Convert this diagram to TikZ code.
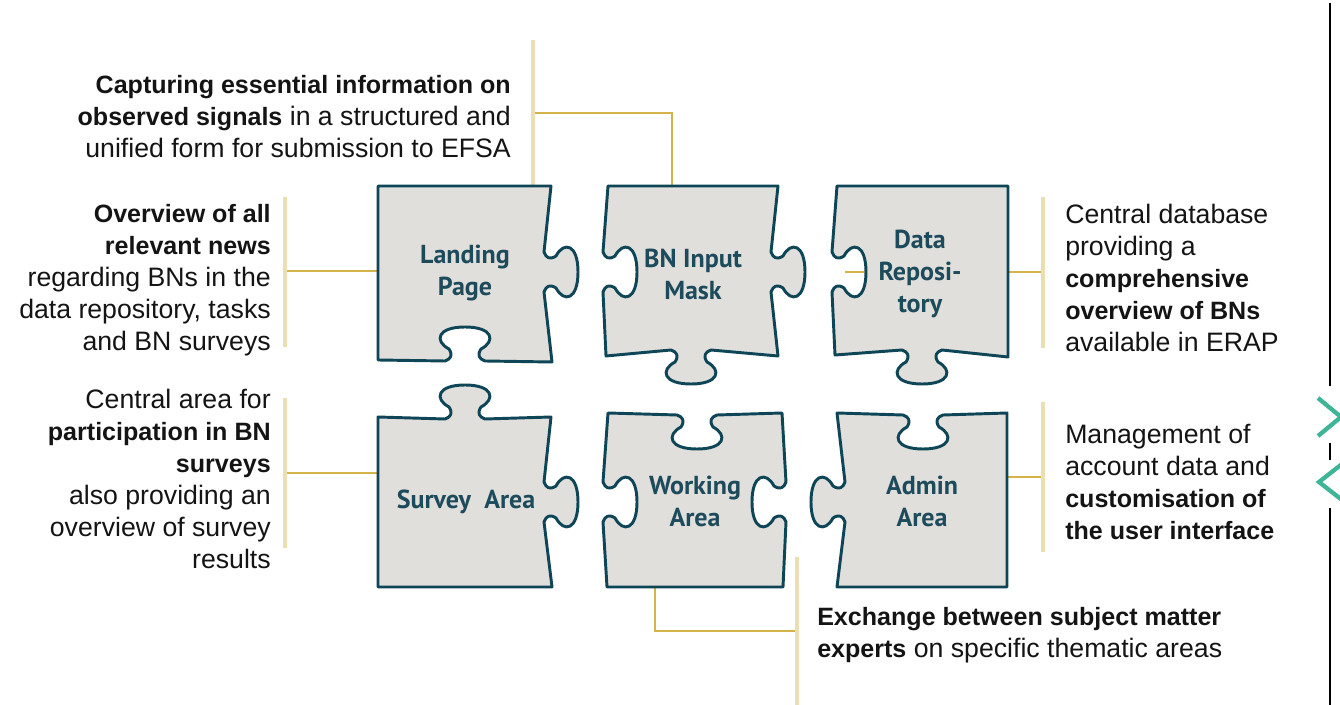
\documentclass[tikz,border=0pt]{standalone}
\usepackage{fontspec}
\setmainfont{Liberation Sans}[BoldFeatures={Scale=0.94}]
\newfontfamily\lblfont{PT Sans}
\definecolor{piecefill}{HTML}{E0DFDB}
\definecolor{pieceline}{HTML}{0E4657}
\definecolor{lbltext}{HTML}{1D4B5C}
\definecolor{barcol}{HTML}{EADFB3}
\definecolor{conncol}{HTML}{D6B24A}
\definecolor{chevcol}{HTML}{3DB596}
\definecolor{txt}{HTML}{141414}
% puzzle knob: x0 y0 (centre on edge), u = direction of travel, v = knob direction
\newcommand\knob[6]{%
 -- ({#1-20*(#3)},{#2-20*(#4)})
 .. controls ({#1-14*(#3)+2*(#5)},{#2-14*(#4)+2*(#6)})
    and ({#1-12*(#3)+6*(#5)},{#2-12*(#4)+6*(#6)})
 .. ({#1-16*(#3)+12*(#5)},{#2-16*(#4)+12*(#6)})
 .. controls ({#1-31*(#3)+20*(#5)},{#2-31*(#4)+20*(#6)})
    and ({#1-28*(#3)+34*(#5)},{#2-28*(#4)+34*(#6)})
 .. ({#1+34*(#5)},{#2+34*(#6)})
 .. controls ({#1+28*(#3)+34*(#5)},{#2+28*(#4)+34*(#6)})
    and ({#1+31*(#3)+20*(#5)},{#2+31*(#4)+20*(#6)})
 .. ({#1+16*(#3)+12*(#5)},{#2+16*(#4)+12*(#6)})
 .. controls ({#1+12*(#3)+6*(#5)},{#2+12*(#4)+6*(#6)})
    and ({#1+14*(#3)+2*(#5)},{#2+14*(#4)+2*(#6)})
 .. ({#1+20*(#3)},{#2+20*(#4)})
}
\tikzset{
  piece/.style={fill=piecefill, draw=pieceline, line width=2.2pt, line join=round},
  lbl/.style={font=\lblfont\bfseries\fontsize{19.5}{24}\selectfont, text=lbltext, align=center, inner sep=0pt},
  desc/.style={font=\fontsize{20}{24}\selectfont, text=txt, inner sep=0pt},
  bar/.style={draw=barcol, line width=2.3pt},
  conn/.style={draw=conncol, line width=1.1pt},
  chev/.style={draw=chevcol, line width=3.2pt, miter limit=10},
  rule/.style={draw=black, line width=1.6pt},
}
\begin{document}
\begin{tikzpicture}[x=0.75pt, y=-0.75pt]
\useasboundingbox[fill=white] (0,0) rectangle (1340,705);

% ---- coordinates for bars and connectors
\coordinate (b1t) at (533,40);   \coordinate (b1b) at (533,185);  \coordinate (b1m) at (533,113);
\coordinate (b2t) at (285,197);  \coordinate (b2b) at (285,347);  \coordinate (b2m) at (285,271);
\coordinate (b3t) at (285,398);  \coordinate (b3b) at (285,548);  \coordinate (b3m) at (285,473);
\coordinate (b4t) at (1043,197); \coordinate (b4b) at (1043,348); \coordinate (b4m) at (1043,272);
\coordinate (b5t) at (1043,402); \coordinate (b5b) at (1043,552); \coordinate (b5m) at (1043,477);
\coordinate (b6t) at (797,557);  \coordinate (b6b) at (797,705);  \coordinate (b6m) at (797,631);
\coordinate (inmask) at (672,190);
\coordinate (inland) at (380,271);
\coordinate (insurvey) at (380,473);
\coordinate (inrepo) at (845,272);
\coordinate (inadmin) at (1006,477);
\coordinate (inwork) at (655,585);

% ---- connectors (behind pieces)
\draw[conn] (b1m) -| (inmask);
\draw[conn] (b2m) -- (inland);
\draw[conn] (b3m) -- (insurvey);
\draw[conn] (b4m) -- (inrepo);
\draw[conn] (b5m) -- (inadmin);
\draw[conn] (b6m) -| (inwork);

% ---- bars
\draw[bar] (b1t) -- (b1b);
\draw[bar] (b2t) -- (b2b);
\draw[bar] (b3t) -- (b3b);
\draw[bar] (b4t) -- (b4b);
\draw[bar] (b5t) -- (b5b);
\draw[bar] (b6t) -- (b6b);

% ---- puzzle pieces
\path[piece] (378,186) -- (551,186) \knob{544}{272}{0}{1}{1}{0} -- (552,362)
  \knob{465}{361}{-1}{0}{0}{-1} -- (378,360) -- cycle;
\path[piece] (608,186) -- (778,186) \knob{771}{272}{0}{1}{1}{0} -- (778,356)
  \knob{691}{350}{-1}{0}{0}{1} -- (606,356) \knob{603}{272}{0}{-1}{1}{0} -- cycle;
\path[piece] (837,186) -- (1008,186) -- (1008,357) \knob{922}{350}{-1}{0}{0}{1}
  -- (835,355) \knob{832}{272}{0}{-1}{1}{0} -- cycle;
\path[piece] (378,417) \knob{465}{419}{1}{0}{0}{-1} -- (551,417)
  \knob{544}{502}{0}{1}{1}{0} -- (552,587) -- (378,587) -- cycle;
\path[piece] (608,413) \knob{697}{415}{1}{0}{0}{1} -- (782,413)
  \knob{786}{502}{0}{1}{-1}{0} -- (783,587) -- (607,587)
  \knob{603}{502}{0}{-1}{1}{0} -- cycle;
\path[piece] (837,413) \knob{923}{415}{1}{0}{0}{1} -- (1007,413) -- (1007,587)
  -- (837,587) \knob{845}{502}{0}{-1}{-1}{0} -- cycle;

% ---- piece labels
\node[lbl] (landing) at (465,273) {Landing\\Page};
\node[lbl] (mask) at (693,274) {BN Input\\Mask};
\node[lbl] (repo) at (920,274) {Data\\Reposi-\\tory};
\node[lbl] (survey) at (466,502) {Survey\ \ Area};
\node[lbl] (working) at (695,501) {Working\\Area};
\node[lbl] (admin) at (922,501) {Admin\\Area};

% ---- descriptions
\node[desc, align=right, anchor=north east] (d1) at (511,75)
  {\textbf{Capturing essential information on}\\\textbf{observed signals} in a structured and\\unified form for submission to EFSA};
\node[desc, align=right, anchor=north east] (d2) at (271,204)
  {\textbf{Overview of all}\\\textbf{relevant news}\\regarding BNs in the\\data repository, tasks\\and BN surveys};
\node[desc, align=right, anchor=north east] (d3) at (271,389)
  {Central area for\\\textbf{participation in BN}\\\textbf{surveys}\\also providing an\\overview of survey\\results};
\node[desc, align=left, anchor=north west] (d4) at (1065,204)
  {Central database\\providing a\\\textbf{comprehensive}\\\textbf{overview of BNs}\\available in ERAP};
\node[desc, align=left, anchor=north west] (d5) at (1065,424)
  {Management of\\account data and\\\textbf{customisation of}\\\textbf{the user interface}};
\node[desc, align=left, anchor=north west] (d6) at (817,607)
  {\textbf{Exchange between subject matter}\\\textbf{experts} on specific thematic areas};

% ---- right-hand rule and chevrons
\coordinate (r1) at (1330,3);   \coordinate (r2) at (1330,386);
\coordinate (r3) at (1330,443); \coordinate (r4) at (1330,460);
\coordinate (r5) at (1330,508); \coordinate (r6) at (1330,705);
\draw[rule] (r1) -- (r2);
\draw[rule] (r3) -- (r4);
\draw[rule] (r5) -- (r6);
\coordinate (c1a) at (1318,398); \coordinate (c1b) at (1341,417); \coordinate (c1c) at (1318,436);
\coordinate (c2a) at (1342,464); \coordinate (c2b) at (1319,482); \coordinate (c2c) at (1342,500);
\draw[chev] (c1a) -- (c1b) -- (c1c);
\draw[chev] (c2a) -- (c2b) -- (c2c);
\end{tikzpicture}
\end{document}
